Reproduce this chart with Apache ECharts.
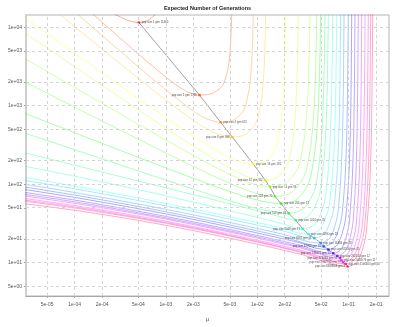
<!DOCTYPE html>
<html><head><meta charset="utf-8">
<script src="https://cdn.jsdelivr.net/npm/echarts@6/dist/echarts.min.js"></script>
<style>html,body{margin:0;padding:0;background:#fff}#c{width:400px;height:327px}</style>
</head><body><div id="c"></div><script>
// ---- axes ----
const xTickValues = [5e-5, 1e-4, 2e-4, 5e-4, 1e-3, 2e-3, 5e-3, 1e-2, 2e-2, 5e-2, 1e-1, 2e-1];
const xTickLabels = ['5e-05','1e-04','2e-04','5e-04','1e-03','2e-03','5e-03','1e-02','2e-02','5e-02','1e-01','2e-01'];
const yTickValues = [5, 10, 20, 50, 100, 200, 500, 1000, 2000, 5000, 10000];
const yTickLabels = ['5e+00','1e+01','2e+01','5e+01','1e+02','2e+02','5e+02','1e+03','2e+03','5e+03','1e+04'];
const xRange = [2.93e-5, 0.277];
const yRange = [3.76, 14330];

// ---- population sizes and optimum (minimum) of each curve ----
const popSizes = [1,2,4,8,16,32,64,128,256,512,1024,2048,4096,8192,16384,32768,65536,131072,262144,524288,1048576,2097152,4194304,8388608];
const optMu  = [5.06e-4,2.33e-3,3.97e-3,5.32e-3,9.04e-3,1.225e-2,1.377e-2,1.563e-2,1.82e-2,2.208e-2,2.636e-2,3.141e-2,3.622e-2,4.207e-2,4.943e-2,5.333e-2,6.0e-2,6.792e-2,7.516e-2,8.054e-2,8.356e-2,8.79e-2,9.29e-2,9.772e-2];
const optGen = [11460,1365,615,398,181,112,92.7,70,56.6,42.5,34.7,26.9,23.1,20.6,17.8,16.1,14.7,13.15,12.2,11.5,10.7,10.1,9.68,8.95];

// ---- curves: mutation rate mu vs expected generations ----
const muP1 = [2e-4,3.16e-4,3.98e-4,5.06e-4,6.31e-4,7.59e-4,8.91e-4];
const genP1 = [17900,13500,12050,11460,12270,14450,18000];
const muP2 = [1e-4,2e-4,5e-4,1e-3,1.585e-3,2.33e-3,3.22e-3,4.11e-3,4.46e-3,4.76e-3,5.0e-3,5.14e-3,5.25e-3,5.33e-3];
const genP2 = [23770,11590,4540,2312,1581,1365,1438,1770,2188,2904,4446,7464,14450,29380];
const muP4 = [5e-5,1e-4,2e-4,5e-4,1e-3,2e-3,2.82e-3,3.97e-3,5.52e-3,7.06e-3,7.67e-3,8.18e-3,8.61e-3,8.85e-3,9.04e-3,9.19e-3];
const genP4 = [31990,15800,7816,3119,1585,855,678,615,659,871,1156,1690,2985,5970,14450,37240];
const muP8 = [2.5e-5,5e-5,1e-4,2e-4,5e-4,1e-3,2e-3,3.16e-3,5.32e-3,7.45e-3,9.59e-3,1.045e-2,1.117e-2,1.175e-2,1.211e-2,1.236e-2,1.256e-2];
const genP8 = [38550,19820,10190,5272,2223,1178,651,471,398,431,592,817,1256,2399,5284,14450,42460];
const muP16 = [2.5e-5,5e-5,1e-4,2e-4,5e-4,1e-3,2e-3,3.98e-3,6.31e-3,9.04e-3,1.253e-2,1.60e-2,1.738e-2,1.854e-2,1.95e-2,2.0e-2,2.05e-2,2.08e-2];
const genP16 = [14720,8279,4645,2618,1232,703,407,249,195,181,199,292,435,735,1618,4236,14450,53830];
const muP32 = [2.5e-5,5e-5,1e-4,2e-4,5e-4,1e-3,2e-3,5e-3,7.94e-3,1.225e-2,1.706e-2,2.193e-2,2.38e-2,2.547e-2,2.673e-2,2.754e-2,2.812e-2,2.858e-2];
const genP32 = [9441,5445,3148,1820,885,516,305,160,124,112,125,191,296,531,1274,3707,14450,62090];
const muP64 = [2.5e-5,5e-5,1e-4,2e-4,5e-4,1e-3,2e-3,5e-3,8.91e-3,1.377e-2,2.061e-2,2.793e-2,3.083e-2,3.342e-2,3.556e-2,3.681e-2,3.776e-2,3.855e-2];
const genP64 = [4345,2723,1706,1069,579,366,233,133,101,92.7,103.5,161,255,467,1159,3516,14450,65770];
const muP128 = [2.5e-5,5e-5,1e-4,2e-4,5e-4,1e-3,2e-3,5e-3,1e-2,1.563e-2,2.382e-2,3.266e-2,3.631e-2,3.945e-2,4.207e-2,4.365e-2,4.477e-2,4.571e-2];
const genP128 = [2173,1444,959,638,374,250,168,102.5,75.7,70,78.7,126,203,385,1007,3251,14450,71610];
const muP256 = [2.5e-5,5e-5,1e-4,2e-4,5e-4,1e-3,2e-3,5e-3,1e-2,1.82e-2,2.716e-2,3.664e-2,4.046e-2,4.385e-2,4.656e-2,4.819e-2,4.943e-2,5.047e-2];
const genP256 = [847,619,453,331,219,161,119,80.5,62.7,56.6,64,104,171,333,906,3062,14450,76210];
const muP512 = [2.5e-5,5e-5,1e-4,2e-4,5e-4,1e-3,2e-3,5e-3,1e-2,2.208e-2,3.184e-2,4.198e-2,4.592e-2,4.943e-2,5.224e-2,5.395e-2,5.521e-2,5.623e-2];
const genP512 = [472,360,275,210,147,112.5,86.4,61.6,48.9,42.5,48.3,80.7,136,274,783,2825,14450,83180];
const muP1024 = [2.5e-5,1e-4,5e-4,2e-3,1e-2,2e-2,2.636e-2,3.664e-2,4.688e-2,5.093e-2,5.433e-2,5.715e-2,5.875e-2,6.0e-2,6.095e-2];
const genP1024 = [260,174.6,109.6,73.4,46.0,37.2,34.7,39.6,67.3,115.9,239,708,2667,14450,88310];
const muP2048 = [2.5e-5,1e-4,5e-4,2e-3,1e-2,2e-2,2.512e-2,3.141e-2,4.256e-2,5.333e-2,5.754e-2,6.124e-2,6.397e-2,6.577e-2,6.699e-2,6.808e-2];
const genP2048 = [174,126.4,85.0,59.0,37.7,30.8,27.9,26.9,30.9,53.7,94.6,201,624,2489,14450,95280];
const muP4096 = [2.5e-5,1e-4,5e-4,2e-3,1e-2,2e-2,2.818e-2,3.622e-2,4.819e-2,5.984e-2,6.427e-2,6.808e-2,7.096e-2,7.278e-2,7.413e-2,7.516e-2];
const genP4096 = [125,94.6,66.7,48.3,32.4,27.1,23.9,23.1,26.6,47.0,83.8,181.6,578,2382,14450,99770];
const muP8192 = [2.5e-5,1e-4,5e-4,2e-3,1e-2,2e-2,3.162e-2,4.207e-2,5.495e-2,6.699e-2,7.161e-2,7.551e-2,7.870e-2,8.054e-2,8.185e-2,8.299e-2];
const genP8192 = [114.8,87.3,61.8,44.9,30.1,25.1,21.4,20.6,23.8,42.3,76.2,167.5,546,2307,14450,103300];
const muP16384 = [2.5e-5,1e-4,5e-4,2e-3,1e-2,2e-2,3.548e-2,4.943e-2,6.252e-2,7.464e-2,7.925e-2,8.299e-2,8.610e-2,8.790e-2,8.913e-2,9.016e-2];
const genP16384 = [102.5,78.3,55.8,40.6,27.3,22.7,18.6,17.8,20.6,37.2,67.9,151.7,507,2213,14450,107900];
const muP32768 = [2.5e-5,1e-4,5e-4,2e-3,1e-2,2e-2,3.802e-2,5.333e-2,6.839e-2,8.241e-2,8.770e-2,9.226e-2,9.572e-2,9.772e-2,9.931e-2,0.1005];
const genP32768 = [94.4,72.6,51.9,37.8,25.4,21.1,16.9,16.1,18.75,34.1,62.8,142.2,483,2153,14450,111200];
const muP65536 = [2.5e-5,1e-4,5e-4,2e-3,1e-2,2e-2,3.162e-2,4.266e-2,6.0e-2,7.586e-2,9.057e-2,9.616e-2,0.1007,0.1045,0.1067,0.1081,0.1094];
const genP65536 = [87.6,67.8,48.7,35.6,23.9,19.9,17.5,15.4,14.7,17.06,31.3,58.2,133,460,2099,14450,114300];
const muP131072 = [2.5e-5,1e-4,5e-4,2e-3,1e-2,2e-2,3.162e-2,4.786e-2,6.792e-2,8.453e-2,0.0998,0.1052,0.1099,0.1138,0.1159,0.1175,0.1189];
const genP131072 = [80.4,62.7,45.2,33.1,22.2,18.5,16.3,13.8,13.15,15.3,28.4,53.3,123.6,436,2037,14450,118000];
const muP262144 = [2.5e-5,1e-4,5e-4,2e-3,1e-2,2e-2,3.162e-2,5.248e-2,7.516e-2,9.290e-2,0.1089,0.1148,0.1197,0.1236,0.1259,0.1276,0.1291];
const genP262144 = [75.9,59.6,43.2,31.7,21.3,17.7,15.6,12.9,12.2,14.3,26.6,50.4,117.5,421,1995,14450,120800];
const muP524288 = [2.5e-5,1e-4,5e-4,2e-3,1e-2,2e-2,3.162e-2,5.623e-2,8.054e-2,0.1002,0.1183,0.1247,0.1303,0.1349,0.1374,0.1393,0.1409];
const genP524288 = [72.3,57.0,41.7,30.6,20.6,17.1,15.1,12.2,11.5,13.5,25.3,48.1,113,408,1963,14450,122700];
const muP1048576 = [2.5e-5,1e-4,5e-4,2e-3,1e-2,2e-2,3.162e-2,5.888e-2,8.356e-2,0.1059,0.1268,0.1343,0.1409,0.1462,0.1493,0.1514,0.1531];
const genP1048576 = [67.1,53.3,39.1,28.8,19.35,16.1,14.2,11.2,10.7,12.5,23.6,45.1,107.2,393,1919,14450,125900];
const muP2097152 = [2.5e-5,1e-4,5e-4,2e-3,1e-2,2e-2,3.162e-2,6.166e-2,8.79e-2,0.1130,0.1361,0.1452,0.1524,0.1585,0.1618,0.1644,0.1663];
const genP2097152 = [64.1,51.3,37.7,27.9,18.7,15.5,13.7,10.7,10.1,11.9,22.5,43.3,103.5,383,1892,14450,127400];
const muP4194304 = [2.5e-5,1e-4,5e-4,2e-3,1e-2,2e-2,3.162e-2,6.457e-2,9.29e-2,0.1197,0.1445,0.1538,0.1618,0.1683,0.1718,0.1746,0.1766];
const genP4194304 = [61.8,49.7,36.7,27.2,18.3,15.2,13.3,10.2,9.68,11.4,21.6,41.8,100.5,374,1866,14450,129400];
const muP8388608 = [2.5e-5,1e-4,5e-4,2e-3,1e-2,2e-2,3.162e-2,6.761e-2,9.772e-2,0.1259,0.1521,0.1618,0.1702,0.1770,0.1807,0.1837,0.1858];
const genP8388608 = [57.4,46.5,34.6,25.6,17.2,14.3,12.55,9.48,8.95,10.5,20.2,39.3,95.3,360,1828,14450,132400];

const curves = [
  [muP1,genP1],[muP2,genP2],[muP4,genP4],[muP8,genP8],[muP16,genP16],[muP32,genP32],
  [muP64,genP64],[muP128,genP128],[muP256,genP256],[muP512,genP512],[muP1024,genP1024],
  [muP2048,genP2048],[muP4096,genP4096],[muP8192,genP8192],[muP16384,genP16384],
  [muP32768,genP32768],[muP65536,genP65536],[muP131072,genP131072],[muP262144,genP262144],
  [muP524288,genP524288],[muP1048576,genP1048576],[muP2097152,genP2097152],
  [muP4194304,genP4194304],[muP8388608,genP8388608]
];

// ---- build chart ----
const L = Math.log10;
const FONT = 'Liberation Sans, Arial, DejaVu Sans, sans-serif';
const nCurves = curves.length;
const colorOf = i => `hsl(${(i * 360 / nCurves).toFixed(1)},100%,50%)`;
const labelFor = (vals, labs) => v => {
  let best = 0, bd = Infinity;
  vals.forEach((t, k) => { const d = Math.abs(L(t) - v); if (d < bd) { bd = d; best = k; } });
  return labs[best];
};

const series = [];
// dashed grid
series.push({
  type: 'line', data: [[L(xRange[0]), L(yRange[0])]], showSymbol: false, silent: true,
  lineStyle: { opacity: 0 }, z: 1,
  markLine: {
    silent: true, symbol: ['none', 'none'], animation: false,
    label: { show: false },
    lineStyle: { color: '#d4d4d4', type: [3, 3], width: 1 },
    data: xTickValues.map(v => ({ xAxis: L(v) })).concat(yTickValues.map(v => ({ yAxis: L(v) })))
  }
});
curves.forEach(([mu, gen], i) => {
  series.push({
    type: 'line', silent: true, showSymbol: false, clip: true,
    smooth: 0.3,
    data: mu.map((m, j) => [L(m), L(gen[j])]),
    lineStyle: { color: colorOf(i), width: 1, opacity: 0.34 }, z: 2
  });
});
// line joining the optima
series.push({
  type: 'line', silent: true, showSymbol: false, clip: true,
  data: optMu.map((m, i) => [L(m), L(optGen[i])]),
  lineStyle: { color: '#8a8a8a', width: 0.8 }, z: 3
});
// optimum points with labels
series.push({
  type: 'scatter', silent: true, symbol: 'rect', symbolSize: 2.4, z: 4,
  data: optMu.map((m, i) => ({
    value: [L(m), L(optGen[i])],
    itemStyle: { color: colorOf(i) },
    label: { position: i % 2 ? 'left' : 'right' }
  })),
  label: {
    show: true, distance: 1.5, fontSize: 2.8, color: '#222', fontFamily: FONT,
    formatter: p => `pop size ${popSizes[p.dataIndex]} gen ${Math.round(optGen[p.dataIndex])}`
  },
  labelLayout: { hideOverlap: false }
});

const chart = echarts.init(document.getElementById('c'), null, { renderer: 'canvas' });
chart.setOption({
  animation: false,
  backgroundColor: '#fff',
  title: {
    text: 'Expected Number of Generations', left: 207.5, top: 5, padding: 0, textAlign: 'center',
    textStyle: { fontSize: 5.5, fontWeight: 'bold', color: '#222', fontFamily: FONT }
  },
  grid: { left: 26, right: 11, top: 15, bottom: 27, show: true, borderColor: '#b4b4b4', borderWidth: 1, backgroundColor: 'transparent' },
  xAxis: {
    type: 'value', min: L(xRange[0]), max: L(xRange[1]),
    name: 'μ', nameLocation: 'middle', nameGap: 20,
    nameTextStyle: { fontSize: 5.5, color: '#444', fontFamily: FONT },
    axisLine: { show: true, lineStyle: { color: '#a8a8a8', width: 1 } },
    axisTick: { show: true, length: 2, customValues: xTickValues.map(L), lineStyle: { color: '#a8a8a8' } },
    axisLabel: { customValues: xTickValues.map(L), formatter: labelFor(xTickValues, xTickLabels), fontSize: 5, color: '#555', margin: 6.5, fontFamily: FONT },
    splitLine: { show: false }
  },
  yAxis: {
    type: 'value', min: L(yRange[0]), max: L(yRange[1]),
    axisLine: { show: true, lineStyle: { color: '#cfcfcf', width: 2 } },
    axisTick: { show: true, length: 2, customValues: yTickValues.map(L), lineStyle: { color: '#a8a8a8' } },
    axisLabel: { customValues: yTickValues.map(L), formatter: labelFor(yTickValues, yTickLabels), fontSize: 5, color: '#555', margin: 4, fontFamily: FONT },
    splitLine: { show: false }
  },
  series
});
</script></body></html>
